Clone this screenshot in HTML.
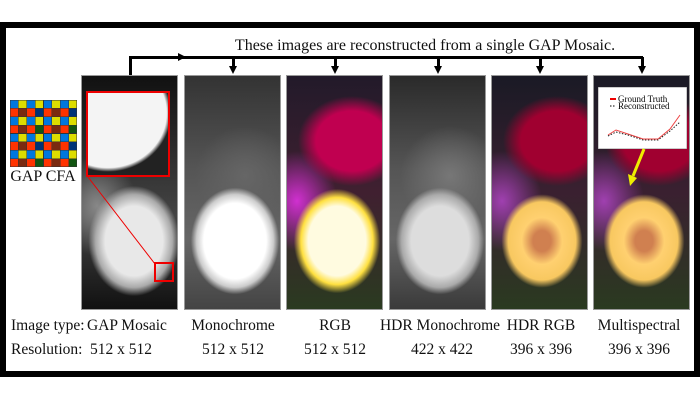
<!DOCTYPE html>
<html><head><style>
body{margin:0;width:700px;height:400px;background:#fff;position:relative;overflow:hidden;font-family:"Liberation Serif",serif;color:#111}
.frame{position:absolute;left:0;top:22px;width:688px;height:343px;border:6px solid #000;background:#fff}
.p{position:absolute;top:75px;width:97px;height:235px;border:1px solid #999;box-sizing:border-box;overflow:hidden}
.t{position:absolute;font-size:15.5px;white-space:nowrap}
.c{transform:translateX(-50%)}
.ar{position:absolute;width:0;height:0;border-left:4px solid transparent;border-right:4px solid transparent;border-top:8px solid #000}
</style></head><body>
<div class="frame"></div>
<div class="t c" style="left:425px;top:37px;font-size:16px">These images are reconstructed from a single GAP Mosaic.</div>
<div style="position:absolute;left:129px;top:56px;width:514px;height:3px;background:#000"></div>
<div style="position:absolute;left:129px;top:56px;width:3px;height:19px;background:#000"></div>
<div style="position:absolute;left:178px;top:53px;border-top:4px solid transparent;border-bottom:4px solid transparent;border-left:8px solid #000"></div>
<div style="position:absolute;left:232px;top:57px;width:3px;height:10px;background:#000"></div><div class="ar" style="left:229px;top:66px"></div>
<div style="position:absolute;left:334px;top:57px;width:3px;height:10px;background:#000"></div><div class="ar" style="left:331px;top:66px"></div>
<div style="position:absolute;left:437px;top:57px;width:3px;height:10px;background:#000"></div><div class="ar" style="left:434px;top:66px"></div>
<div style="position:absolute;left:539px;top:57px;width:3px;height:10px;background:#000"></div><div class="ar" style="left:536px;top:66px"></div>
<div style="position:absolute;left:641px;top:57px;width:3px;height:10px;background:#000"></div><div class="ar" style="left:638px;top:66px"></div>

<svg style="position:absolute;left:10px;top:100px" width="67" height="67" viewBox="0 0 8 8" shape-rendering="crispEdges">
<g stroke="#333" stroke-width="0.06">
<rect x="0" y="0" width="8" height="8" fill="#ff3300"/>
<g fill="#0077dd"><rect x="0" y="0" width="1" height="1"/><rect x="2" y="0" width="1" height="1"/><rect x="4" y="0" width="1" height="1"/><rect x="6" y="0" width="1" height="1"/><rect x="0" y="2" width="1" height="1"/><rect x="2" y="2" width="1" height="1"/><rect x="4" y="2" width="1" height="1"/><rect x="6" y="2" width="1" height="1"/><rect x="0" y="4" width="1" height="1"/><rect x="2" y="4" width="1" height="1"/><rect x="4" y="4" width="1" height="1"/><rect x="6" y="4" width="1" height="1"/><rect x="0" y="6" width="1" height="1"/><rect x="2" y="6" width="1" height="1"/><rect x="4" y="6" width="1" height="1"/><rect x="6" y="6" width="1" height="1"/></g>
<g fill="#dddd00"><rect x="1" y="0" width="1" height="1"/><rect x="3" y="0" width="1" height="1"/><rect x="5" y="0" width="1" height="1"/><rect x="7" y="0" width="1" height="1"/><rect x="1" y="2" width="1" height="1"/><rect x="3" y="2" width="1" height="1"/><rect x="5" y="2" width="1" height="1"/><rect x="7" y="2" width="1" height="1"/><rect x="1" y="4" width="1" height="1"/><rect x="3" y="4" width="1" height="1"/><rect x="5" y="4" width="1" height="1"/><rect x="7" y="4" width="1" height="1"/><rect x="1" y="6" width="1" height="1"/><rect x="3" y="6" width="1" height="1"/><rect x="5" y="6" width="1" height="1"/><rect x="7" y="6" width="1" height="1"/></g>
<g fill="#7a2a10"><rect x="1" y="1" width="1" height="1"/><rect x="5" y="1" width="1" height="1"/><rect x="1" y="3" width="1" height="1"/><rect x="5" y="3" width="1" height="1"/><rect x="1" y="5" width="1" height="1"/><rect x="5" y="5" width="1" height="1"/><rect x="1" y="7" width="1" height="1"/><rect x="5" y="7" width="1" height="1"/></g>
<g fill="#003377"><rect x="3" y="1" width="1" height="1"/><rect x="7" y="1" width="1" height="1"/><rect x="3" y="5" width="1" height="1"/><rect x="7" y="5" width="1" height="1"/></g>
<g fill="#115511"><rect x="3" y="3" width="1" height="1"/><rect x="7" y="3" width="1" height="1"/><rect x="3" y="7" width="1" height="1"/><rect x="7" y="7" width="1" height="1"/></g>
</g></svg>
<div class="t c" style="left:43px;top:168px;font-size:16px">GAP CFA</div>

<div class="p" style="left:81px;background:radial-gradient(ellipse 48px 58px at 52px 165px,#e8e8e8 60%,#aaa 80%,transparent 95%),radial-gradient(ellipse 40px 50px at 15px 130px,#888,transparent),linear-gradient(#111,#333 40%,#444 60%,#111)">
 <div style="position:absolute;left:4px;top:15px;width:84px;height:86px;border:2px solid #e00;box-sizing:border-box;background:radial-gradient(ellipse 75px 70px at 20px 20px,#f4f4f4 78%,#222 84%),#111"></div>
 <svg style="position:absolute;left:0;top:0" width="97" height="235"><line x1="6" y1="101" x2="73" y2="188" stroke="#e00" stroke-width="1"/></svg>
 <div style="position:absolute;left:72px;top:186px;width:16px;height:16px;border:2px solid #e00"></div>
</div>
<div class="p" style="left:184px;background:radial-gradient(ellipse 48px 58px at 50px 165px,#fff 65%,#ccc 80%,transparent 92%),radial-gradient(ellipse 50px 50px at 60px 100px,#666,transparent),linear-gradient(#333,#555 40%,#666 70%,#444)"></div>
<div class="p" style="left:286px;background:radial-gradient(ellipse 48px 58px at 50px 165px,#fffbe0 60%,#ffe040 75%,transparent 90%),radial-gradient(ellipse 60px 50px at 65px 65px,#c00050 60%,transparent 90%),radial-gradient(ellipse 40px 50px at 10px 125px,#d030d0,transparent),linear-gradient(#221a2a,#402030 50%,#2a3a20)"></div>
<div class="p" style="left:389px;background:radial-gradient(ellipse 48px 58px at 50px 165px,#ddd 60%,#aaa 80%,transparent 92%),radial-gradient(ellipse 50px 50px at 60px 100px,#777,transparent),linear-gradient(#2a2a2a,#555 40%,#666 70%,#3a3a3a)"></div>
<div class="p" style="left:491px;background:radial-gradient(ellipse 45px 52px at 50px 165px,#d08050 20%,#ffd070 45%,#f8c860 75%,transparent 90%),radial-gradient(ellipse 60px 50px at 65px 65px,#a00030 60%,transparent 90%),radial-gradient(ellipse 40px 50px at 10px 125px,#a040b0,transparent),linear-gradient(#1a1a25,#3a2030 50%,#2a3a20)"></div>
<div class="p" style="left:593px;background:radial-gradient(ellipse 45px 52px at 50px 165px,#d08050 20%,#ffd070 45%,#f8c860 75%,transparent 90%),radial-gradient(ellipse 60px 50px at 65px 65px,#a00030 60%,transparent 90%),radial-gradient(ellipse 40px 50px at 10px 125px,#a040b0,transparent),linear-gradient(#1a1a25,#3a2030 50%,#2a3a20)">
 <svg style="position:absolute;left:4px;top:11px" width="89" height="62"><rect width="89" height="62" fill="#fff" stroke="#999"/>
 <polyline points="10,48 18,43 30,47 45,52 60,52 72,42 82,28" fill="none" stroke="#e44" stroke-width="1"/>
 <polyline points="10,49 18,45 30,48 45,53 60,53 72,44 82,35" fill="none" stroke="#222" stroke-width="1" stroke-dasharray="1.5,1.5"/>
 <line x1="12" y1="12" x2="18" y2="12" stroke="#e00" stroke-width="2"/><line x1="12" y1="19" x2="18" y2="19" stroke="#000" stroke-dasharray="1.5,1.5"/>
 <text x="20" y="15" font-size="9" font-family="Liberation Serif">Ground Truth</text>
 <text x="20" y="22" font-size="9" font-family="Liberation Serif">Reconstructed</text></svg>
 <svg style="position:absolute;left:0;top:0" width="97" height="235"><line x1="50" y1="73" x2="39" y2="100" stroke="#ee0" stroke-width="3"/><polygon points="34,98 43,102 36,110" fill="#ee0"/></svg>
</div>

<div class="t" style="left:11px;top:317px">Image type:</div>
<div class="t" style="left:87px;top:317px">GAP Mosaic</div>
<div class="t c" style="left:233px;top:317px">Monochrome</div>
<div class="t c" style="left:335px;top:317px">RGB</div>
<div class="t c" style="left:440px;top:317px">HDR Monochrome</div>
<div class="t c" style="left:541px;top:317px">HDR RGB</div>
<div class="t c" style="left:639px;top:317px">Multispectral</div>
<div class="t" style="left:11px;top:341px">Resolution:</div>
<div class="t" style="left:90px;top:341px">512 x 512</div>
<div class="t c" style="left:233px;top:341px">512 x 512</div>
<div class="t c" style="left:335px;top:341px">512 x 512</div>
<div class="t c" style="left:442px;top:341px">422 x 422</div>
<div class="t c" style="left:541px;top:341px">396 x 396</div>
<div class="t c" style="left:639px;top:341px">396 x 396</div>
</body></html>
